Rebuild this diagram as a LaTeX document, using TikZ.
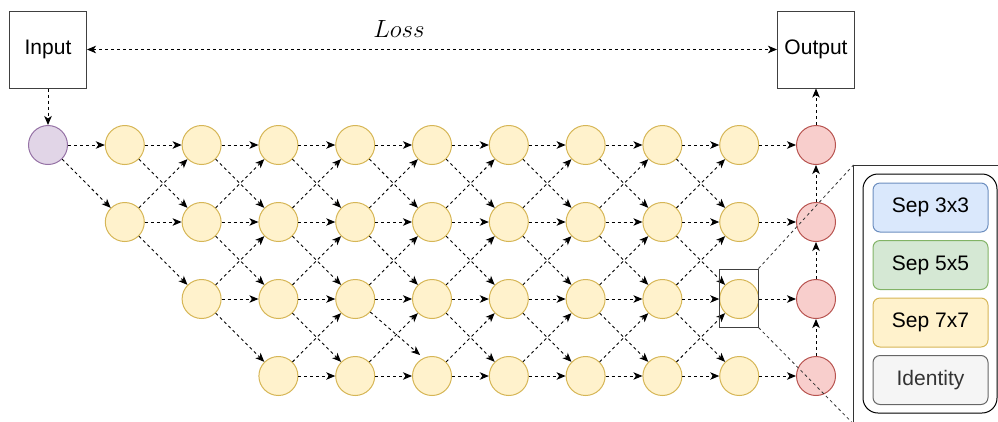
\documentclass[tikz,border=0pt]{standalone}
\usepackage{fontspec}
\setmainfont{Liberation Sans}
\usetikzlibrary{arrows.meta}
\definecolor{yfill}{HTML}{FFF2CC}
\definecolor{ydraw}{HTML}{D6B656}
\definecolor{pfill}{HTML}{E1D5E7}
\definecolor{pdraw}{HTML}{9673A6}
\definecolor{rfill}{HTML}{F8CECC}
\definecolor{rdraw}{HTML}{B85450}
\definecolor{bfill}{HTML}{DAE8FC}
\definecolor{bdraw}{HTML}{6C8EBF}
\definecolor{gfill}{HTML}{D5E8D4}
\definecolor{gdraw}{HTML}{82B366}
\definecolor{sfill}{HTML}{F5F5F5}
\definecolor{sdraw}{HTML}{666666}
\definecolor{stext}{HTML}{333333}
\tikzset{
  cell/.style={circle, minimum size=39pt, inner sep=0pt, line width=1pt},
  ycell/.style={cell, fill=yfill, draw=ydraw},
  pcell/.style={cell, fill=pfill, draw=pdraw},
  rcell/.style={cell, fill=rfill, draw=rdraw},
  iobox/.style={draw=black!75, line width=1pt, minimum width=77pt, minimum height=77pt, inner sep=0pt, font=\fontsize{21}{25}\selectfont},
  edge/.style={line width=0.9pt, dash pattern=on 3pt off 3pt, -{Stealth[length=9pt,width=7.5pt,inset=2.5pt]}},
  biedge/.style={line width=0.9pt, dash pattern=on 3pt off 3pt, {Stealth[length=9pt,width=7.5pt,inset=2.5pt]}-{Stealth[length=9pt,width=7.5pt,inset=2.5pt]}},
  zoomline/.style={line width=0.8pt, dash pattern=on 3pt off 3pt, black!80},
  legbox/.style={rounded corners=7pt, line width=1pt, minimum width=115pt, minimum height=49pt, inner sep=0pt, font=\fontsize{21}{25}\selectfont}
}
\begin{document}
\begin{tikzpicture}[x=1pt,y=-1pt]
\useasboundingbox (0,0) rectangle (998,421);
\begin{scope}
\clip (0,0) rectangle (998,421);
% boxes
\node[iobox] (in) at (48,49.5) {Input};
\node[iobox] (out) at (816,49.5) {Output};
\node (loss) at (399,29) {\fontsize{23}{28}\selectfont $Loss$};
\draw[biedge] (in) -- (out);
% cells
\node[pcell] (n-0-0) at (48,145) {};
\foreach \c in {1,...,9}{
  \pgfmathtruncatemacro\ma{min(\c,3)}
  \foreach \r in {0,...,\ma}{
    \node[ycell] (n-\c-\r) at ({48+76.8*\c},{145+77*\r}) {};
  }
}
\foreach \r in {0,...,3}{
  \node[rcell] (n-10-\r) at (816,{145+77*\r}) {};
}
% lattice edges
\foreach \c in {0,...,8}{
  \pgfmathtruncatemacro\ma{min(\c,3)}
  \pgfmathtruncatemacro\mb{min(\c+1,3)}
  \pgfmathtruncatemacro\cn{\c+1}
  \foreach \r in {0,...,\ma}{
    \foreach \d in {-1,0,1}{
      \pgfmathtruncatemacro\rr{\r+\d}
      \pgfmathtruncatemacro\skip{(\c==4)&&(\r==2)&&(\rr==3)}
      \ifnum\rr<0 \else \ifnum\rr>\mb \else \ifnum\skip=0
        \draw[edge] (n-\c-\r) -- (n-\cn-\rr);
      \fi\fi\fi
    }
  }
}
\coordinate (tip53) at (420,355);
\draw[edge] (n-4-2) -- (tip53);
\foreach \r in {0,...,3}{
  \draw[edge] (n-9-\r) -- (n-10-\r);
}
\draw[edge] (n-10-3) -- (n-10-2);
\draw[edge] (n-10-2) -- (n-10-1);
\draw[edge] (n-10-1) -- (n-10-0);
\draw[edge] (n-10-0) -- (out);
\draw[edge] (in) -- (n-0-0);
% zoom
\node[draw=black!75, line width=1pt, minimum width=39pt, minimum height=58pt, inner sep=0pt] (zoom) at (738.5,298) {};
\coordinate (bigtl) at (853.5,165);
\coordinate (bigbl) at (853.5,424);
\coordinate (bigtr) at (1005,165);
\draw[line width=1pt, black!80] (bigbl) -- (bigtl) -- (bigtr);
\draw[zoomline] (zoom.north east) -- (bigtl);
\draw[zoomline] (zoom.south east) -- (bigbl);
% legend
\node[draw=black, line width=1pt, rounded corners=15pt, minimum width=134pt, minimum height=239pt, inner sep=0pt] (legend) at (930,293.5) {};
\node[legbox, fill=bfill, draw=bdraw] (l1) at (930.5,207.5) {Sep 3x3};
\node[legbox, fill=gfill, draw=gdraw] (l2) at (930.5,265) {Sep 5x5};
\node[legbox, fill=yfill, draw=ydraw] (l3) at (930.5,322.5) {Sep 7x7};
\node[legbox, fill=sfill, draw=sdraw, text=stext] (l4) at (930.5,380) {Identity};
\end{scope}
\end{tikzpicture}
\end{document}
